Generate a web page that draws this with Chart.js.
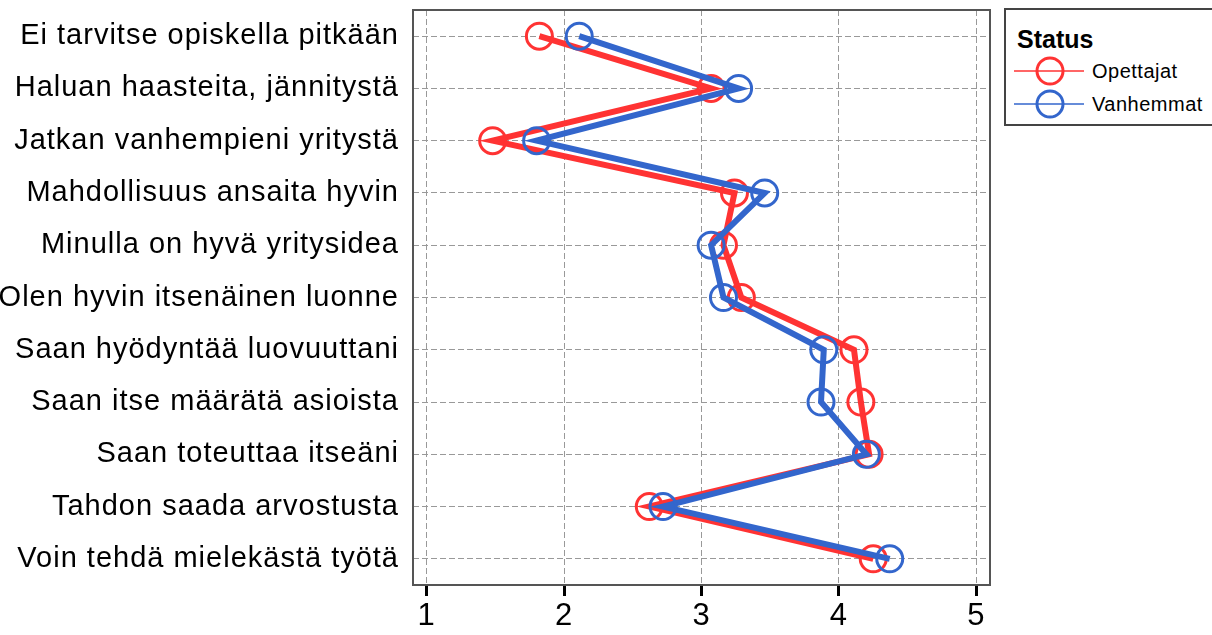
<!DOCTYPE html>
<html>
<head>
<meta charset="utf-8">
<script src="https://cdn.jsdelivr.net/npm/chart.js@4/dist/chart.umd.min.js"></script>
<style>
  body { margin: 0; background: #fff; font-family: "Liberation Sans", Arial, sans-serif; }
  #wrap { position: relative; width: 1212px; height: 635px; }
  #legend { position: absolute; left: 1004px; top: 8px; width: 216px; height: 118px;
            border: 2px solid #444; box-sizing: border-box; background: #fff; }
  #legend .title { position: absolute; left: 11px; top: 17px; font-weight: bold; font-size: 25px; line-height: 25px; color: #000; }
  #legend .item { position: absolute; left: 0; height: 32px; width: 210px; }
  #legend .item svg { position: absolute; left: 8px; top: 0; }
  #legend .item span { position: absolute; left: 86px; top: 6px; font-size: 20px; line-height: 20px; color: #000; letter-spacing: 0.5px; }
</style>
</head>
<body>
<div id="wrap">
  <canvas id="chart" width="1212" height="635"></canvas>
  <div id="legend"></div>
</div>
<script>
const categories = [
  'Ei tarvitse opiskella pitkään',
  'Haluan haasteita, jännitystä',
  'Jatkan vanhempieni yritystä',
  'Mahdollisuus ansaita hyvin',
  'Minulla on hyvä yritysidea',
  'Olen hyvin itsenäinen luonne',
  'Saan hyödyntää luovuuttani',
  'Saan itse määrätä asioista',
  'Saan toteuttaa itseäni',
  'Tahdon saada arvostusta',
  'Voin tehdä mielekästä työtä'
];
const seriesNames = ['Opettajat', 'Vanhemmat'];
const opettajat = [1.82, 3.07, 1.48, 3.24, 3.16, 3.29, 4.11, 4.16, 4.22, 2.62, 4.25];
const vanhemmat = [2.11, 3.27, 1.80, 3.46, 3.07, 3.16, 3.89, 3.87, 4.20, 2.72, 4.37];
const xTicks = [1, 2, 3, 4, 5];
const colors = ['#ff3333', '#3366cc'];

// gray frame around the plot area, plus slightly wider text spacing
const frame = {
  id: 'frame',
  beforeDraw(chart) {
    chart.ctx.letterSpacing = '1px';
  },
  beforeDatasetsDraw(chart) {
    const a = chart.chartArea;
    const ctx = chart.ctx;
    ctx.save();
    ctx.strokeStyle = '#555';
    ctx.lineWidth = 2;
    ctx.strokeRect(a.left, a.top, a.right - a.left, a.bottom - a.top);
    ctx.restore();
  }
};

function makeDataset(i, values) {
  return {
    label: seriesNames[i],
    data: values,
    borderColor: colors[i],
    borderWidth: 6,
    pointRadius: 13,
    pointHoverRadius: 13,
    pointBorderWidth: 3,
    pointBorderColor: colors[i],
    pointBackgroundColor: 'rgba(0,0,0,0)',
    fill: false,
    tension: 0,
    order: i === 0 ? 1 : 0
  };
}

const ctx = document.getElementById('chart').getContext('2d');
const chart = new Chart(ctx, {
  type: 'line',
  data: {
    labels: categories,
    datasets: [makeDataset(0, opettajat), makeDataset(1, vanhemmat)]
  },
  options: {
    responsive: false,
    animation: false,
    indexAxis: 'y',
    layout: { autoPadding: false, padding: { top: 10, right: 222, left: 0, bottom: 0 } },
    plugins: {
      legend: { display: false },
      tooltip: { enabled: false }
    },
    scales: {
      x: {
        type: 'linear',
        min: 0.9,
        max: 5.1,
        afterBuildTicks: scale => { scale.ticks = xTicks.map(v => ({ value: v })); },
        afterFit: scale => { scale.height = 50; scale.paddingLeft = 0; scale.paddingRight = 0; },
        grid: {
          color: '#999',
          lineWidth: 1,
          tickColor: '#000',
          tickWidth: 3,
          tickLength: 11
        },
        border: { display: false, dash: [6, 3] },
        ticks: {
          color: '#000',
          padding: 2,
          font: { family: '"Liberation Sans", Arial, sans-serif', size: 31 }
        }
      },
      y: {
        type: 'category',
        offset: true,
        afterFit: scale => { scale.width = 413; scale.paddingTop = 0; scale.paddingBottom = 0; },
        grid: {
          color: '#999',
          lineWidth: 1,
          offset: false,
          drawTicks: false
        },
        border: { display: false, dash: [6, 3] },
        ticks: {
          color: '#000',
          padding: 14,
          font: { family: '"Liberation Sans", Arial, sans-serif', size: 29 }
        }
      }
    }
  },
  plugins: [frame]
});

// legend box built from the dataset names and colours
const legend = document.getElementById('legend');
let html = '<div class="title">Status</div>';
seriesNames.forEach((name, i) => {
  const top = 45 + i * 33;
  html += '<div class="item" style="top:' + top + 'px">' +
    '<svg width="80" height="32"><line x1="0" y1="16" x2="70" y2="16" stroke="' + colors[i] + '" stroke-width="1.5"/>' +
    '<circle cx="36" cy="16" r="13" fill="none" stroke="' + colors[i] + '" stroke-width="3"/></svg>' +
    '<span>' + name + '</span></div>';
});
legend.innerHTML = html;
</script>
</body>
</html>
